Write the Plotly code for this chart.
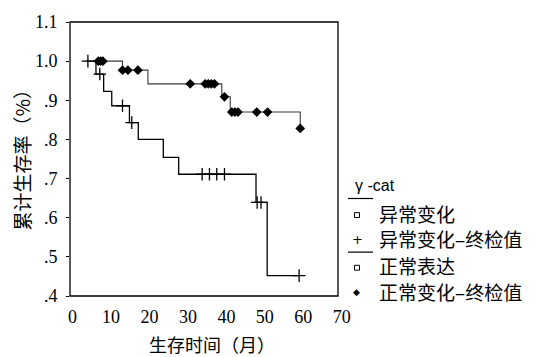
import plotly.graph_objects as go

# ---- data ----
abn_times = [3.5, 6.1, 8.1, 10.2, 14.8, 17.1, 23.6, 27.6, 47.7, 50.6, 59.0]
abn_surv = [1.0, 0.967, 0.923, 0.886, 0.843, 0.800, 0.754, 0.711, 0.639, 0.452, 0.452]
abn_cens_t = [4.0, 7.1, 13.0, 15.4, 33.7, 35.6, 37.5, 39.5, 48.0, 49.0, 58.9]
abn_cens_s = [1.0, 0.967, 0.886, 0.843, 0.711, 0.711, 0.711, 0.711, 0.639, 0.639, 0.452]

nor_times = [5.4, 13.0, 19.6, 38.8, 41.0, 59.2]
nor_surv = [1.0, 0.977, 0.942, 0.909, 0.870, 0.828]
nor_cens_t = [6.7, 7.3, 7.9, 13.0, 14.4, 17.0, 30.6, 34.5, 35.3, 36.1, 36.9,
              39.5, 41.4, 42.2, 43.0, 47.9, 50.7, 59.2]
nor_cens_s = [1.0, 1.0, 1.0, 0.977, 0.977, 0.977, 0.942, 0.942, 0.942, 0.942, 0.942,
              0.909, 0.870, 0.870, 0.870, 0.870, 0.870, 0.828]

x_ticks = [0, 10, 20, 30, 40, 50, 60, 70]
y_ticks = [0.4, 0.5, 0.6, 0.7, 0.8, 0.9, 1.0, 1.1]
y_ticktext = [".4", ".5", ".6", ".7", ".8", ".9", "1.0", "1.1"]

legend_title = "γ -cat"
legend_labels = ["异常变化", "异常变化–终检值", "正常表达", "正常变化–终检值"]
x_title = "生存时间（月）"
y_title = "累计生存率（%）"

# ---- layout geometry (pixels) ----
W, H = 539, 357
L, R, T, B = 70, 342, 15, 296


def px(xp):
    return (xp - L) / (R - L)


def py(yp):
    return (B - yp) / (B - T)


CJK = "Noto Sans CJK SC"
SERIF = "Liberation Serif"

fig = go.Figure()

fig.add_trace(go.Scatter(x=nor_times, y=nor_surv, mode="lines", line_shape="hv",
                         line=dict(color="#3a3a3a", width=1.1), showlegend=False,
                         hoverinfo="skip"))
fig.add_trace(go.Scatter(x=abn_times, y=abn_surv, mode="lines", line_shape="hv",
                         line=dict(color="black", width=1.3), showlegend=False,
                         hoverinfo="skip"))
fig.add_trace(go.Scatter(x=abn_cens_t, y=abn_cens_s, mode="markers",
                         marker=dict(symbol="cross-thin", size=9, color="black",
                                     line=dict(color="black", width=1.3)),
                         showlegend=False))
fig.add_trace(go.Scatter(x=nor_cens_t, y=nor_cens_s, mode="markers",
                         marker=dict(symbol="diamond", size=7.5, color="black"),
                         showlegend=False))

shapes = [
    # frame
    dict(type="rect", xref="paper", yref="paper", x0=0, x1=px(338), y0=0, y1=1,
         line=dict(color="black", width=1.3)),
    # legend group lines
    dict(type="line", xref="paper", yref="paper", x0=px(348), x1=px(373), y0=py(196), y1=py(196),
         line=dict(color="black", width=1.2)),
    dict(type="line", xref="paper", yref="paper", x0=px(348), x1=px(373), y0=py(251), y1=py(251),
         line=dict(color="black", width=1.2)),
    # legend small squares
    dict(type="rect", xref="paper", yref="paper", x0=px(354.5), x1=px(359.5), y0=py(215.5), y1=py(210.5),
         line=dict(color="black", width=1)),
    dict(type="rect", xref="paper", yref="paper", x0=px(354.5), x1=px(359.5), y0=py(269.5), y1=py(264.5),
         line=dict(color="black", width=1)),
]

ann = []
ann.append(dict(text=legend_title, x=px(353), y=py(183), xref="paper", yref="paper",
                xanchor="left", yanchor="middle", showarrow=False,
                font=dict(family="Liberation Sans", size=16, color="black")))
label_y = [211, 237, 265, 291]
for lab, yy in zip(legend_labels, label_y):
    ann.append(dict(text=lab, x=px(377), y=py(yy), xref="paper", yref="paper",
                    xanchor="left", yanchor="middle", showarrow=False,
                    font=dict(family=CJK, size=19, color="black")))
ann.append(dict(text="+", x=px(357), y=py(238), xref="paper", yref="paper",
                xanchor="center", yanchor="middle", showarrow=False,
                font=dict(family="DejaVu Sans", size=13, color="black")))
ann.append(dict(text="◆", x=px(356), y=py(292), xref="paper", yref="paper",
                xanchor="center", yanchor="middle", showarrow=False,
                font=dict(family="DejaVu Sans", size=9, color="black")))
# axis titles
ann.append(dict(text=x_title, x=px(212), y=py(345), xref="paper", yref="paper",
                xanchor="center", yanchor="middle", showarrow=False,
                font=dict(family=CJK, size=18, color="black")))
ann.append(dict(text=y_title, x=px(22), y=py(152), xref="paper", yref="paper",
                xanchor="center", yanchor="middle", showarrow=False, textangle=-90,
                font=dict(family=CJK, size=19, color="black")))

fig.update_layout(
    width=W, height=H,
    margin=dict(l=L, r=W - R, t=T, b=H - B),
    paper_bgcolor="white", plot_bgcolor="white",
    showlegend=False,
    shapes=shapes, annotations=ann,
    xaxis=dict(range=[-0.65, 70.05], tickvals=x_ticks, showgrid=False, zeroline=False,
               showline=False, ticks="", ticklabelstandoff=8,
               tickfont=dict(family=SERIF, size=18, color="black")),
    yaxis=dict(range=[0.4, 1.1], tickvals=y_ticks, ticktext=y_ticktext, showgrid=False,
               zeroline=False, showline=False, ticks="outside", ticklen=3, tickcolor="black",
               ticklabelstandoff=5,
               tickfont=dict(family=SERIF, size=18, color="black")),
)

fig.write_html("out.html", config={"displayModeBar": False},
               post_script="document.body.style.margin='0';document.body.style.overflow='hidden';")
